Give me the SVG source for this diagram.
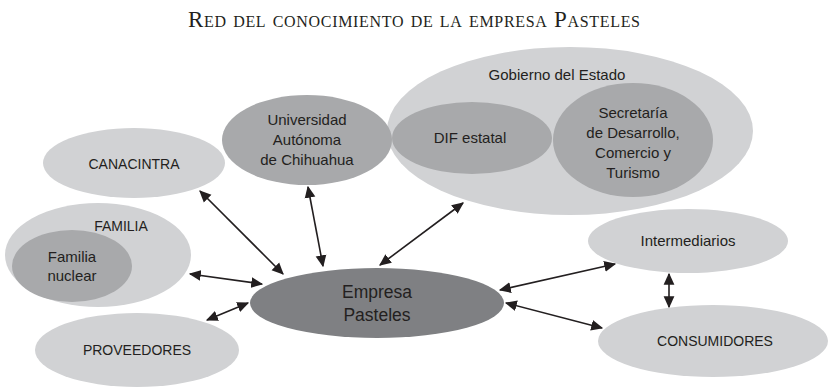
<svg xmlns="http://www.w3.org/2000/svg" width="828" height="387" viewBox="0 0 828 387">
<style>
.light{fill:#d1d2d4}
.mid{fill:#a8a9ab}
.dark{fill:#7f8083}
.t{font-family:"Liberation Sans",Arial,sans-serif;font-size:15px;fill:#231f20;text-anchor:middle}
.caps{font-size:14px}
.big{font-size:17.5px}
.title{font-family:"Liberation Serif","Times New Roman",serif;font-size:23px;fill:#231f20;text-anchor:middle;font-variant:small-caps}
.c{stroke:#231f20;stroke-width:1.6;fill:none;marker-start:url(#ah);marker-end:url(#ah)}
</style>
<defs>
<marker id="ah" viewBox="0 0 10 10" refX="9" refY="5" markerWidth="7.5" markerHeight="7.5" orient="auto-start-reverse" markerUnits="strokeWidth">
<path d="M0,0.5 L10,5 L0,9.5 z" fill="#231f20"/>
</marker>
</defs>
<rect width="828" height="387" fill="#ffffff"/>
<text class="title" x="414" y="27" textLength="452" lengthAdjust="spacing">Red del conocimiento de la empresa Pasteles</text>

<g id="gobierno">
<ellipse class="light" cx="570" cy="131" rx="183" ry="84"/>
<text class="t" x="557" y="80">Gobierno del Estado</text>
</g>
<g id="dif">
<ellipse class="mid" cx="472" cy="138" rx="80" ry="36"/>
<text class="t" x="470" y="143">DIF estatal</text>
</g>
<g id="secretaria">
<ellipse class="mid" cx="633" cy="140" rx="80" ry="57"/>
<text class="t" x="633" y="118">Secretaría</text>
<text class="t" x="633" y="138">de Desarrollo,</text>
<text class="t" x="633" y="158">Comercio y</text>
<text class="t" x="633" y="178">Turismo</text>
</g>
<g id="universidad">
<ellipse class="mid" cx="307" cy="140" rx="85" ry="45"/>
<text class="t" x="307" y="125">Universidad</text>
<text class="t" x="307" y="145">Autónoma</text>
<text class="t" x="307" y="165">de Chihuahua</text>
</g>
<g id="canacintra">
<ellipse class="light" cx="134" cy="163" rx="91" ry="35"/>
<text class="t caps" x="134" y="169">CANACINTRA</text>
</g>
<g id="familia">
<ellipse class="light" cx="98" cy="255" rx="93" ry="52"/>
<text class="t caps" x="121" y="231">FAMILIA</text>
</g>
<g id="familia-nuclear">
<ellipse class="mid" cx="72" cy="266" rx="60" ry="36"/>
<text class="t" x="72" y="262">Familia</text>
<text class="t" x="72" y="281">nuclear</text>
</g>
<g id="proveedores">
<ellipse class="light" cx="137" cy="350" rx="102" ry="37"/>
<text class="t caps" x="137" y="355">PROVEEDORES</text>
</g>
<g id="empresa">
<ellipse class="dark" cx="377" cy="303" rx="127" ry="35"/>
<text class="t big" x="377" y="298">Empresa</text>
<text class="t big" x="377" y="321">Pasteles</text>
</g>
<g id="intermediarios">
<ellipse class="light" cx="688" cy="241" rx="100" ry="32"/>
<text class="t" x="688" y="246">Intermediarios</text>
</g>
<g id="consumidores">
<ellipse class="light" cx="713" cy="341" rx="115" ry="36"/>
<text class="t caps" x="715" y="346">CONSUMIDORES</text>
</g>

<g id="connectors">
<line class="c" x1="200" y1="191" x2="283" y2="274"/>
<line class="c" x1="308" y1="187" x2="323" y2="266"/>
<line class="c" x1="463" y1="203" x2="380" y2="265"/>
<line class="c" x1="190" y1="274" x2="262" y2="284"/>
<line class="c" x1="207" y1="320" x2="248" y2="303"/>
<line class="c" x1="500" y1="290" x2="615" y2="264"/>
<line class="c" x1="506" y1="303" x2="602" y2="328"/>
<line class="c" x1="669" y1="274" x2="669" y2="307"/>
</g>
</svg>
